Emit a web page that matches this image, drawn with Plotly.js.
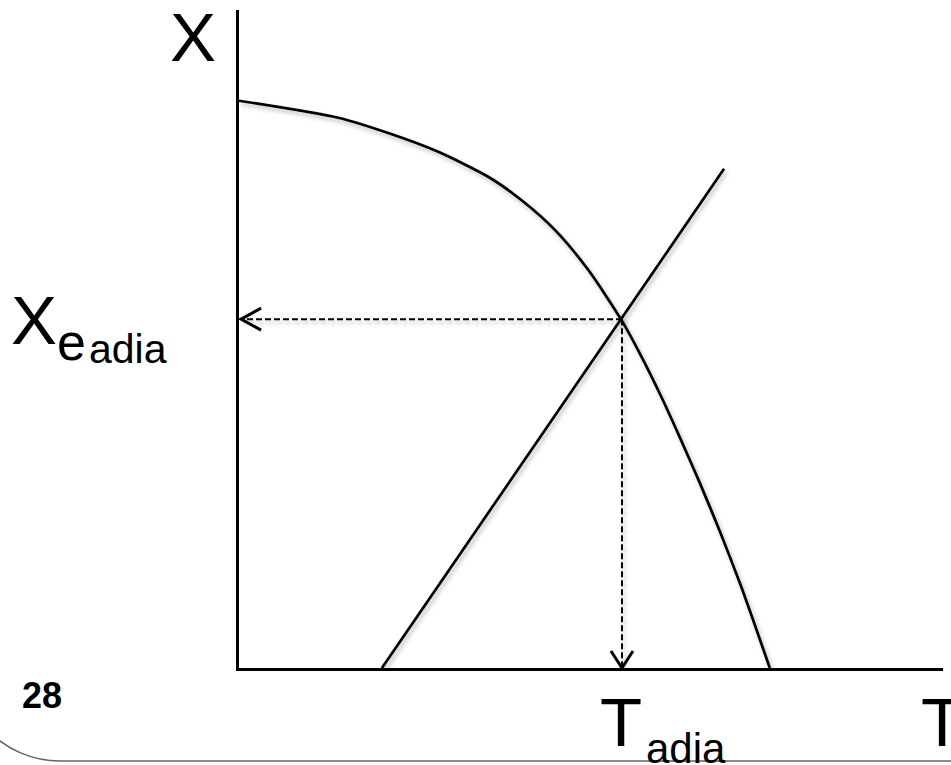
<!DOCTYPE html>
<html>
<head>
<meta charset="utf-8">
<script src="https://cdn.plot.ly/plotly-3.0.1.min.js"></script>
<style>
html,body{margin:0;padding:0;background:#fff;}
#chart{width:951px;height:765px;}
.scatterlayer .js-line{filter:drop-shadow(2px 3px 2px rgba(0,0,0,0.28));}
</style>
</head>
<body>
<div id="chart"></div>
<script>
// Equilibrium conversion curve X_e(T)
const T_equil = [0, 1.41, 2.12, 2.83, 3.54, 4.01, 4.49, 4.96, 5.44, 5.70, 5.98, 6.26, 6.55, 6.83, 7.12, 7.33, 7.54];
const X_equil = [1.0, 0.970, 0.943, 0.910, 0.866, 0.825, 0.772, 0.702, 0.612, 0.553, 0.483, 0.407, 0.325, 0.241, 0.148, 0.075, 0];
// Energy balance line X_EB(T)
const T_energy = [2.03, 6.89];
const X_energy = [0, 0.88];
// Adiabatic equilibrium point
const T_adia = 5.44;
const X_adia = 0.615;
// Axis ranges
const T_range = [0, 10];
const X_range = [0, 1.16];

const W = 951, H = 765;
const M = {l: 239, r: 8, t: 10, b: 97};
const pw = W - M.l - M.r, ph = H - M.t - M.b;
const px = x => (x - M.l) / pw;
const py = y => (H - M.b - y) / ph;

const FONT = 'Liberation Sans, Arial, Helvetica, sans-serif';

const traces = [
  {x: T_equil, y: X_equil, mode: 'lines', line: {color: '#000', width: 2.7, shape: 'spline', smoothing: 0.7}, hoverinfo: 'skip'},
  {x: T_energy, y: X_energy, mode: 'lines', line: {color: '#000', width: 2.7}, hoverinfo: 'skip'},
  {x: [T_adia, 0.03], y: [X_adia, X_adia], mode: 'lines', line: {color: '#000', width: 2, dash: '6px,3px'}, hoverinfo: 'skip'},
  {x: [T_adia, T_adia], y: [X_adia, 0], mode: 'lines', line: {color: '#000', width: 2, dash: '6px,3px'}, hoverinfo: 'skip'}
];

function ann(text, x, y, size, opts) {
  return Object.assign({text: text, xref: 'paper', yref: 'paper', x: px(x), y: py(y),
    xanchor: 'center', yanchor: 'middle', showarrow: false,
    font: {family: FONT, size: size, color: '#000'}}, opts || {});
}

const annotations = [
  ann('X', 193, 38, 69),
  ann('X', 34, 320, 69),
  ann('e', 71, 342, 52),
  ann('adia', 128, 349, 41),
  ann('T', 621, 722, 69),
  ann('adia', 686, 748, 42),
  ann('T', 919, 722, 69, {xanchor: 'left'}),
  ann('<b>28</b>', 42, 695, 36)
];

const r = 100, cx = 60, cy = 761 - r;
const k = 0.5523 * r;
const framePath = 'M ' + px(W + 5) + ' ' + py(761) +
  ' L ' + px(cx) + ' ' + py(761) +
  ' C ' + px(cx - k) + ' ' + py(761) + ' ' + px(cx - r) + ' ' + py(cy + k) + ' ' + px(cx - r) + ' ' + py(cy);

const shapes = [
  {type: 'path', xref: 'x', yref: 'y', xsizemode: 'pixel', ysizemode: 'pixel',
   xanchor: 0.03, yanchor: X_adia, path: 'M 20 11 L 0 0 L 20 -11',
   line: {color: '#000', width: 3}},
  {type: 'path', xref: 'x', yref: 'y', xsizemode: 'pixel', ysizemode: 'pixel',
   xanchor: T_adia, yanchor: 0, path: 'M -11 17 L 0 0 L 11 17',
   line: {color: '#000', width: 3}},
  {type: 'path', xref: 'paper', yref: 'paper', path: framePath,
   line: {color: '#666', width: 1.5}}
];

const axisCommon = {showgrid: false, zeroline: false, showticklabels: false, ticks: '',
  showline: true, linecolor: '#000', linewidth: 3, fixedrange: true};

const layout = {
  width: W, height: H, margin: M,
  paper_bgcolor: '#fff', plot_bgcolor: '#fff',
  showlegend: false,
  xaxis: Object.assign({range: T_range}, axisCommon),
  yaxis: Object.assign({range: X_range}, axisCommon),
  annotations: annotations,
  shapes: shapes
};

Plotly.newPlot('chart', traces, layout, {displayModeBar: false, staticPlot: true});
</script>
</body>
</html>
